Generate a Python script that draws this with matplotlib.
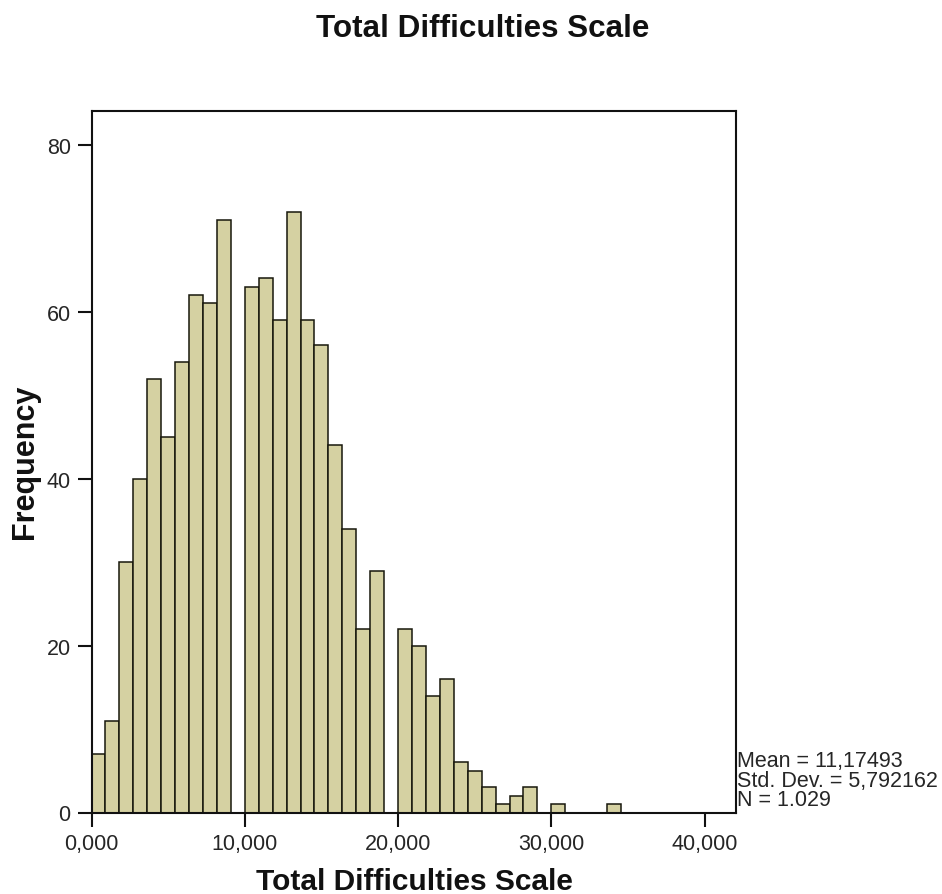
import numpy as np
import matplotlib
matplotlib.use("Agg")
import matplotlib.pyplot as plt

# Histogram of the Total Difficulties Scale (SPSS-style binning, bin width 10/11)
bin_width = 10 / 11
bin_counts = [7, 11, 30, 40, 52, 45, 54, 62, 61, 71,
              0, 63, 64, 59, 72, 59, 56, 44, 34, 22,
              29, 0, 22, 20, 14, 16, 6, 5, 3, 1,
              2, 3, 0, 1, 0, 0, 0, 1]
x_ticks = [0, 10, 20, 30, 40]
x_tick_labels = ["0,000", "10,000", "20,000", "30,000", "40,000"]
y_ticks = [0, 20, 40, 60, 80]
stats_lines = ["Mean = 11,17493", "Std. Dev. = 5,792162", "N = 1.029"]
title = "Total Difficulties Scale"

plt.rcParams["font.family"] = ["Liberation Sans", "DejaVu Sans"]

W, H = 942, 895
fig = plt.figure(figsize=(W / 100, H / 100), dpi=100)
ax = fig.add_axes([91.5 / W, 1 - 813.5 / H, (736 - 91.5) / W, (813.5 - 111.7) / H])

left_edges = np.arange(len(bin_counts)) * bin_width
ax.bar(left_edges, bin_counts, width=bin_width, align="edge",
       color="#D5D1A2", edgecolor="#17170c", linewidth=1.1, zorder=2)

ax.set_xlim(0, 42.05)
ax.set_ylim(0, 84.1)
ax.set_xticks(x_ticks)
ax.set_xticklabels(x_tick_labels)
ax.set_yticks(y_ticks)

for s in ax.spines.values():
    s.set_linewidth(1.5)
    s.set_color("#111111")
ax.tick_params(axis="both", direction="out", length=10, width=1.5,
               color="#111111", pad=5, labelsize=15.5, labelcolor="#262626")

fig.text(482.5 / W, 1 - 36.7 / H, title, ha="center", va="baseline",
         fontsize=22.6, fontweight="bold", color="#111111")
fig.text(414 / W, 1 - 890 / H, "Total Difficulties Scale", ha="center",
         va="baseline", fontsize=21.5, fontweight="bold", color="#111111")
fig.text(25 / W, 1 - 462 / H, "Frequency", rotation=90, ha="center",
         va="center", fontsize=22, fontweight="bold", color="#111111")

baselines = [766.7, 786.7, 806.0]
for line, yb in zip(stats_lines, baselines):
    fig.text(737 / W, 1 - yb / H, line, ha="left", va="baseline",
             fontsize=15.5, color="#262626")

fig.savefig("out.png", dpi=100)
